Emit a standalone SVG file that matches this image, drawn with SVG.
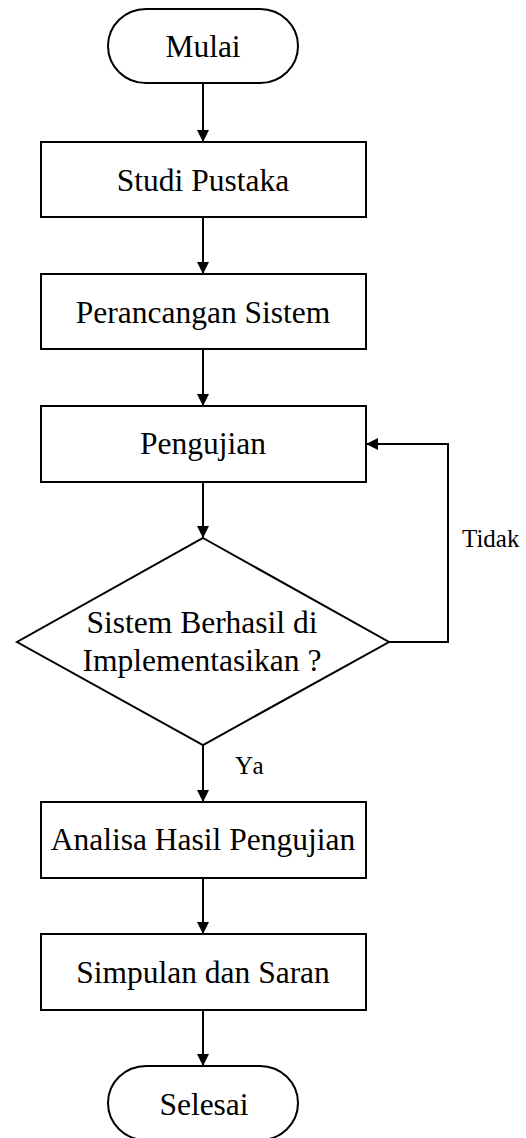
<svg xmlns="http://www.w3.org/2000/svg" width="526" height="1138" viewBox="0 0 526 1138">
<style>
.s{fill:#fff;stroke:#000;stroke-width:2}
.t{font-family:"Liberation Serif","Times New Roman",serif;font-size:31.5px;fill:#000;text-anchor:middle}
.l{font-family:"Liberation Serif","Times New Roman",serif;font-size:25px;fill:#000}
.c{fill:none;stroke:#000;stroke-width:2}
</style>
<defs>
<marker id="ah" viewBox="0 0 12 12" refX="12" refY="6" markerWidth="12" markerHeight="12" markerUnits="userSpaceOnUse" orient="auto">
<path d="M0,0 L12,6 L0,12 Z" fill="#000"/>
</marker>
</defs>
<rect width="526" height="1138" fill="#fff"/>
<g id="connectors">
<line class="c" x1="203" y1="83" x2="203" y2="142" marker-end="url(#ah)"/>
<line class="c" x1="203" y1="217" x2="203" y2="274" marker-end="url(#ah)"/>
<line class="c" x1="203" y1="349" x2="203" y2="406" marker-end="url(#ah)"/>
<line class="c" x1="203" y1="482" x2="203" y2="538" marker-end="url(#ah)"/>
<polyline class="c" points="389,642 448,642 448,444 366,444" marker-end="url(#ah)"/>
<line class="c" x1="203" y1="745" x2="203" y2="802" marker-end="url(#ah)"/>
<line class="c" x1="203" y1="878" x2="203" y2="934" marker-end="url(#ah)"/>
<line class="c" x1="203" y1="1010" x2="203" y2="1066" marker-end="url(#ah)"/>
<text class="l" x="462" y="547">Tidak</text>
<text class="l" x="235" y="774" letter-spacing="2">Ya</text>
</g>
<g id="mulai">
<rect class="s" x="108" y="9" width="190" height="74" rx="38" ry="37"/>
<text class="t" x="203" y="57">Mulai</text>
</g>
<g id="studi">
<rect class="s" x="41" y="142" width="325" height="75"/>
<text class="t" x="203" y="191">Studi Pustaka</text>
</g>
<g id="perancangan">
<rect class="s" x="41" y="274" width="325" height="75"/>
<text class="t" x="203" y="323">Perancangan Sistem</text>
</g>
<g id="pengujian">
<rect class="s" x="41" y="406" width="325" height="76"/>
<text class="t" x="203" y="454">Pengujian</text>
</g>
<g id="keputusan">
<polygon class="s" points="203,538 389,642 203,745 17,642"/>
<text class="t" x="202" y="633">Sistem Berhasil di</text>
<text class="t" x="202" y="671">Implementasikan ?</text>
</g>
<g id="analisa">
<rect class="s" x="41" y="802" width="325" height="76"/>
<text class="t" x="203" y="850">Analisa Hasil Pengujian</text>
</g>
<g id="simpulan">
<rect class="s" x="41" y="934" width="325" height="76"/>
<text class="t" x="203" y="983">Simpulan dan Saran</text>
</g>
<g id="selesai">
<rect class="s" x="108" y="1066" width="190" height="74" rx="38" ry="37"/>
<text class="t" x="204" y="1115">Selesai</text>
</g>
</svg>
